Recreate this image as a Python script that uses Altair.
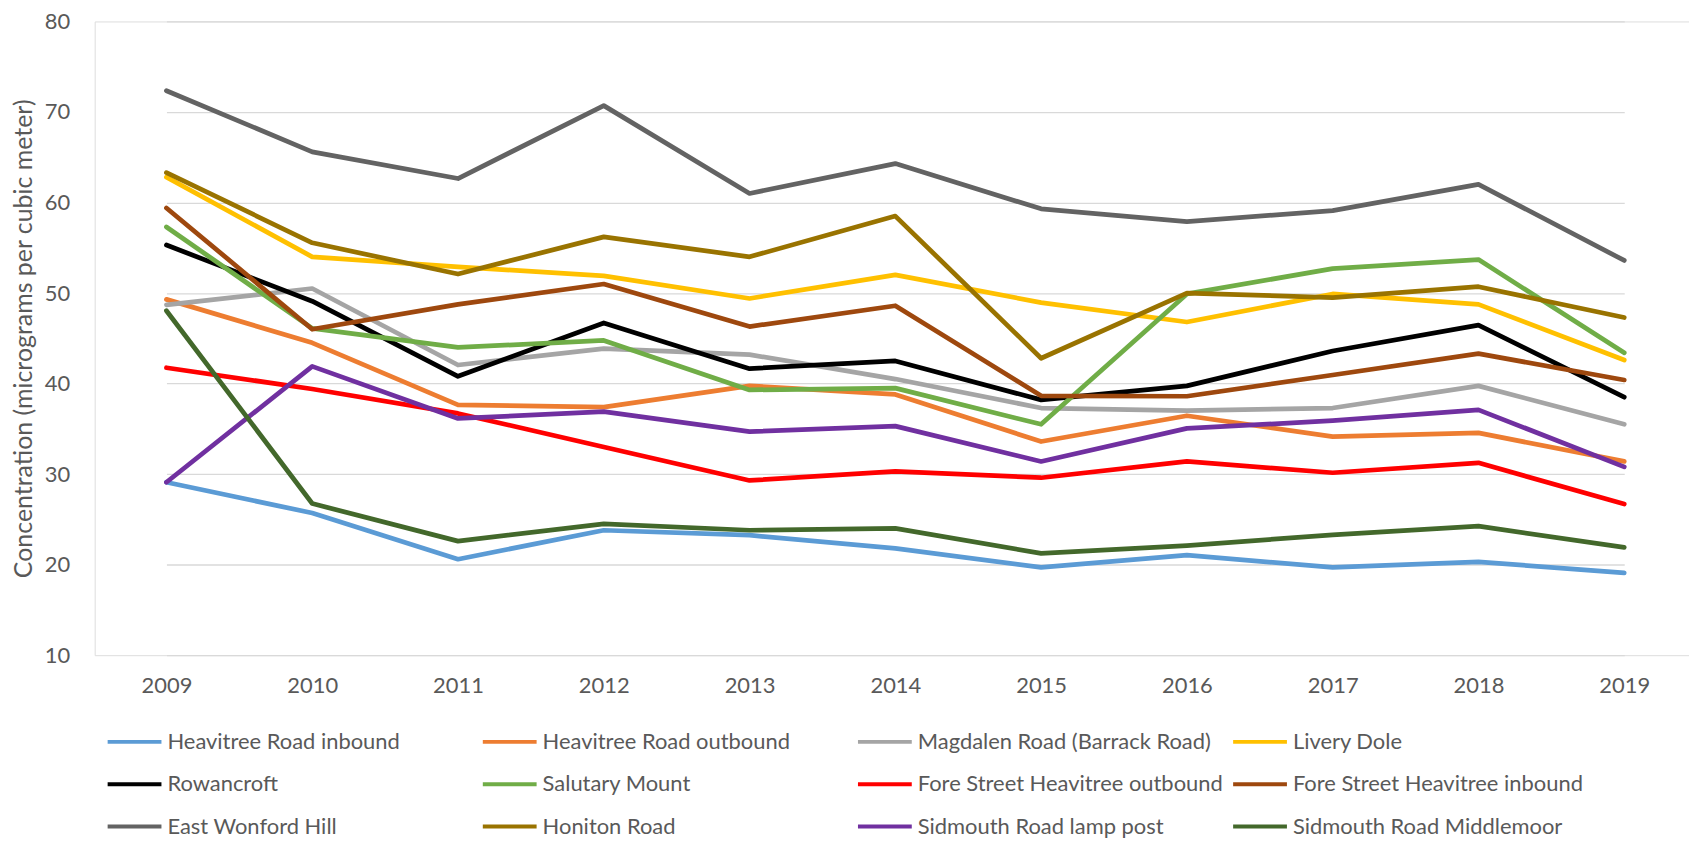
import altair as alt
import pandas as pd

years = [2009, 2010, 2011, 2012, 2013, 2014, 2015, 2016, 2017, 2018, 2019]

series_names = [
    "Heavitree Road inbound",
    "Heavitree Road outbound",
    "Magdalen Road (Barrack Road)",
    "Livery Dole",
    "Rowancroft",
    "Salutary Mount",
    "Fore Street Heavitree outbound",
    "Fore Street Heavitree inbound",
    "East Wonford Hill",
    "Honiton Road",
    "Sidmouth Road lamp post",
    "Sidmouth Road Middlemoor",
]

series_colors = [
    "#5B9BD5", "#ED7D31", "#A5A5A5", "#FFC000",
    "#000000", "#70AD47", "#FF0000", "#9E480E",
    "#636363", "#997300", "#7030A0", "#43682B",
]

heavitree_in = [29.1, 25.7, 20.6, 23.8, 23.25, 21.8, 19.7, 21.05, 19.7, 20.3, 19.1]
heavitree_out = [49.3, 44.5, 37.65, 37.4, 39.75, 38.8, 33.6, 36.45, 34.15, 34.55, 31.4]
magdalen = [48.7, 50.5, 42.05, 43.85, 43.2, 40.5, 37.3, 37.0, 37.3, 39.75, 35.5]
livery_dole = [62.8, 54.0, 52.9, 51.9, 49.4, 52.0, 48.95, 46.8, 49.9, 48.75, 42.6]
rowancroft = [55.3, 49.1, 40.8, 46.7, 41.65, 42.5, 38.2, 39.75, 43.6, 46.45, 38.5]
salutary = [57.3, 46.1, 44.0, 44.76, 39.3, 39.5, 35.5, 49.9, 52.7, 53.7, 43.4]
fore_out = [41.75, 39.4, 36.7, 33.0, 29.3, 30.3, 29.6, 31.4, 30.15, 31.25, 26.7]
fore_in = [59.4, 46.0, 48.75, 51.0, 46.3, 48.6, 38.65, 38.6, 40.95, 43.3, 40.4]
east_wonford = [72.35, 65.6, 62.65, 70.7, 61.0, 64.3, 59.3, 57.9, 59.1, 62.0, 53.6]
honiton = [63.3, 55.55, 52.1, 56.2, 54.0, 58.5, 42.8, 50.0, 49.5, 50.7, 47.3]
sidmouth_lamp = [29.1, 41.9, 36.15, 36.9, 34.7, 35.3, 31.4, 35.05, 35.9, 37.1, 30.8]
sidmouth_middle = [48.05, 26.75, 22.6, 24.5, 23.8, 24.0, 21.25, 22.1, 23.3, 24.25, 21.9]

all_values = [
    heavitree_in, heavitree_out, magdalen, livery_dole,
    rowancroft, salutary, fore_out, fore_in,
    east_wonford, honiton, sidmouth_lamp, sidmouth_middle,
]

y_ticks = [10, 20, 30, 40, 50, 60, 70, 80]

rows = []
for i, (name, vals) in enumerate(zip(series_names, all_values)):
    for yr, v in zip(years, vals):
        rows.append({"Year": str(yr), "Site": name, "Value": v})
df = pd.DataFrame(rows)

# Vega fills legend grids column by column; reorder so that reading the
# 4-column, 3-row legend left-to-right gives the original series order.
n_cols, n_rows = 4, 3
legend_order = [r * n_cols + c for c in range(n_cols) for r in range(n_rows)]
legend_names = [series_names[k] for k in legend_order]
legend_colors = [series_colors[k] for k in legend_order]

FONT = "Lato"
TXT = "#595959"

chart = (
    alt.Chart(df)
    .mark_line(strokeWidth=4.75, strokeCap="round", strokeJoin="round")
    .encode(
        x=alt.X(
            "Year:O",
            sort=[str(y) for y in years],
            scale=alt.Scale(type="point", padding=0, range=[72, 1535]),
            axis=alt.Axis(
                title=None,
                labelAngle=0,
                labelFont=FONT,
                labelFontSize=22,
                labelColor=TXT,
                labelPadding=20,
                ticks=False,
                domain=False,
                grid=False,
            ),
        ),
        y=alt.Y(
            "Value:Q",
            scale=alt.Scale(domain=[10, 80], nice=False, zero=False),
            axis=alt.Axis(
                values=y_ticks,
                title="Concentration (micrograms per cubic meter)",
                titleFont=FONT,
                titleFontSize=25,
                titleFontWeight="normal",
                titleColor=TXT,
                titleAngle=-90,
                titleAlign="center",
                titleBaseline="middle",
                titleX=-71,
                titleY=318,
                labelFont=FONT,
                labelFontSize=22,
                labelColor=TXT,
                labelPadding=25,
                ticks=False,
                domain=False,
                grid=True,
                gridColor="#D9D9D9",
                gridWidth=1.3,
            ),
        ),
        color=alt.Color(
            "Site:N",
            scale=alt.Scale(domain=legend_names, range=legend_colors),
            legend=alt.Legend(
                title=None,
                orient="none",
                legendX=11,
                legendY=694,
                columns=4,
                gridAlign="all",
                columnPadding=1.5,
                rowPadding=2.5,
                symbolType="stroke",
                symbolSize=2916,
                symbolStrokeWidth=4,
                labelFont=FONT,
                labelFontSize=22,
                labelColor=TXT,
                labelOffset=4,
                labelLimit=400,
                padding=0,
            ),
        ),
        detail="Site:N",
    )
    .properties(
        width=1600,
        height=636,
        autosize=alt.AutoSizeParams(type="none"),
        padding={"left": 87, "top": 12, "right": 0, "bottom": 188},
    )
    .configure_view(stroke=None)
    .configure(background="white")
)

chart.save("out.html", embed_options={"renderer": "svg", "actions": False})
